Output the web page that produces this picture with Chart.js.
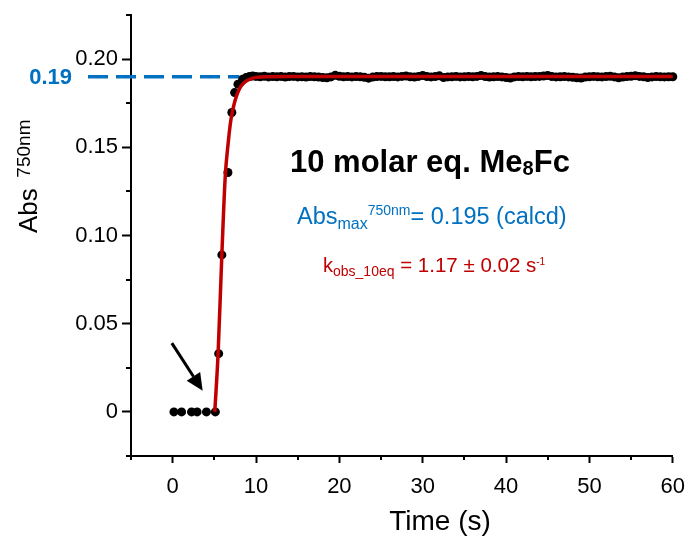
<!DOCTYPE html>
<html>
<head>
<meta charset="utf-8">
<script src="https://cdn.jsdelivr.net/npm/chart.js@4"></script>
<style>
  html, body { margin: 0; padding: 0; background: #fff; }
  canvas { display: block; }
</style>
</head>
<body>
<canvas id="kineticsChart" width="696" height="536"></canvas>
<script>
// measured points (time in s, absorbance at 750 nm)
const timeS = [
  0.15, 1.07, 2.26, 2.93, 4.05, 5.12, 5.52, 5.9, 6.63, 7.1, 7.43, 7.83,
  8.4, 8.8, 9.2, 9.6, 10.0, 10.5, 11.0, 11.5, 12.0, 12.5, 13.0, 13.5,
  14.0, 14.5, 15.0, 15.5, 16.0, 16.5, 17.0, 17.5, 18.0, 18.5, 19.0, 19.5,
  20.0, 20.5, 21.0, 21.5, 22.0, 22.5, 23.0, 23.5, 24.0, 24.5, 25.0, 25.5,
  26.0, 26.5, 27.0, 27.5, 28.0, 28.5, 29.0, 29.5, 30.0, 30.5, 31.0, 31.5,
  32.0, 32.5, 33.0, 33.5, 34.0, 34.5, 35.0, 35.5, 36.0, 36.5, 37.0, 37.5,
  38.0, 38.5, 39.0, 39.5, 40.0, 40.5, 41.0, 41.5, 42.0, 42.5, 43.0, 43.5,
  44.0, 44.5, 45.0, 45.5, 46.0, 46.5, 47.0, 47.5, 48.0, 48.5, 49.0, 49.5,
  50.0, 50.5, 51.0, 51.5, 52.0, 52.5, 53.0, 53.5, 54.0, 54.5, 55.0, 55.5,
  56.0, 56.5, 57.0, 57.5, 58.0, 58.5, 59.0, 59.5, 60.0
];
const absObs = [
  0, 0, 0, 0, 0, 0, 0.033, 0.089, 0.1357, 0.1697, 0.181, 0.1858,
  0.1886, 0.1895, 0.1901, 0.1904, 0.1902, 0.1900, 0.1903, 0.1899, 0.1901, 0.1900, 0.1902, 0.1898,
  0.1901, 0.1902, 0.1899, 0.1900, 0.1898, 0.1901, 0.1900, 0.1898, 0.1896, 0.1894, 0.1899, 0.1908,
  0.1903, 0.1900, 0.1901, 0.1899, 0.1901, 0.1900, 0.1897, 0.1892, 0.1898, 0.1901, 0.1902, 0.1900,
  0.1900, 0.1901, 0.1899, 0.1902, 0.1904, 0.1900, 0.1898, 0.1902, 0.1907, 0.1901, 0.1899, 0.1901,
  0.1905, 0.1895, 0.1899, 0.1900, 0.1902, 0.1899, 0.1900, 0.1901, 0.1900, 0.1902, 0.1907, 0.1901,
  0.1898, 0.1900, 0.1901, 0.1899, 0.1896, 0.1893, 0.1899, 0.1901, 0.1900, 0.1902, 0.1900, 0.1901,
  0.1902, 0.1904, 0.1907, 0.1901, 0.1899, 0.1900, 0.1901, 0.1899, 0.1897, 0.1894, 0.1893, 0.1898,
  0.1900, 0.1902, 0.1900, 0.1899, 0.1901, 0.1903, 0.1899, 0.1894, 0.1898, 0.1901, 0.1903, 0.1906,
  0.1902, 0.1900, 0.1896, 0.1899, 0.1901, 0.1900, 0.1899, 0.1900, 0.1900
];

// first-order fit
const fitTime = [5.05, 5.45, 5.9, 6.3, 6.65, 7.0, 7.45, 8.0, 8.6, 9.6, 11.0, 14.0, 60.0];
const fitAbs = [0, 0.033, 0.089, 0.133, 0.152, 0.166, 0.176, 0.183, 0.1867, 0.1892, 0.1900, 0.1901, 0.1901];

const plateauAbs = 0.19;
const plateauEnd = 8.0;
const arrowFrom = [-0.1, 0.039];
const arrowTo = [3.6, 0.012];

const FONT = "'Liberation Sans', Arial, sans-serif";
const BLUE = '#0070C0';
const RED = '#C00000';

function isMajor(v, step) {
  const r = v / step;
  return Math.abs(r - Math.round(r)) < 1e-6;
}

function drawRich(ctx, x, y, parts, color) {
  ctx.fillStyle = color;
  ctx.textAlign = 'left';
  ctx.textBaseline = 'alphabetic';
  parts.forEach(p => {
    ctx.font = (p.bold ? 'bold ' : '') + p.size + 'px ' + FONT;
    ctx.fillText(p.t, x, y + (p.dy || 0));
    x += ctx.measureText(p.t).width;
  });
}

const extras = {
  id: 'extras',
  beforeDatasetsDraw(chart) {
    const { ctx, chartArea: a, scales: { x, y } } = chart;
    const py = y.getPixelForValue(plateauAbs);
    ctx.save();
    ctx.strokeStyle = BLUE;
    ctx.lineWidth = 3.5;
    ctx.setLineDash([20, 8]);
    ctx.beginPath();
    ctx.moveTo(a.left - 43, py);
    ctx.lineTo(x.getPixelForValue(plateauEnd), py);
    ctx.stroke();
    ctx.restore();
  },
  afterDraw(chart) {
    const { ctx, chartArea: a, scales: { x, y } } = chart;
    ctx.save();

    // minor ticks
    ctx.strokeStyle = '#000';
    ctx.lineWidth = 2;
    ctx.beginPath();
    x.ticks.forEach(t => {
      if (!isMajor(t.value, 10)) {
        const px = Math.round(x.getPixelForValue(t.value));
        ctx.moveTo(px, a.bottom);
        ctx.lineTo(px, a.bottom + 4);
      }
    });
    y.ticks.forEach(t => {
      if (!isMajor(t.value, 0.05)) {
        const py = Math.round(y.getPixelForValue(t.value));
        ctx.moveTo(a.left, py);
        ctx.lineTo(a.left - 5, py);
      }
    });
    ctx.stroke();

    // 0.19 label
    ctx.fillStyle = BLUE;
    ctx.font = 'bold 22px ' + FONT;
    ctx.textAlign = 'right';
    ctx.textBaseline = 'middle';
    ctx.fillText('0.19', a.left - 59, y.getPixelForValue(plateauAbs) + 1);

    // arrow
    const x0 = x.getPixelForValue(arrowFrom[0]), y0 = y.getPixelForValue(arrowFrom[1]);
    const x1 = x.getPixelForValue(arrowTo[0]), y1 = y.getPixelForValue(arrowTo[1]);
    const ang = Math.atan2(y1 - y0, x1 - x0);
    const hl = 17, hw = 8;
    const bx = x1 - hl * Math.cos(ang), by = y1 - hl * Math.sin(ang);
    ctx.strokeStyle = '#000';
    ctx.fillStyle = '#000';
    ctx.lineWidth = 3;
    ctx.beginPath();
    ctx.moveTo(x0, y0);
    ctx.lineTo(bx, by);
    ctx.stroke();
    ctx.beginPath();
    ctx.moveTo(x1, y1);
    ctx.lineTo(bx + hw * Math.sin(ang), by - hw * Math.cos(ang));
    ctx.lineTo(bx - hw * Math.sin(ang), by + hw * Math.cos(ang));
    ctx.closePath();
    ctx.fill();

    // axis titles
    ctx.fillStyle = '#000';
    ctx.textAlign = 'center';
    ctx.textBaseline = 'alphabetic';
    ctx.font = '28px ' + FONT;
    ctx.fillText('Time (s)', 440, 530);

    ctx.save();
    ctx.translate(37, 233);
    ctx.rotate(-Math.PI / 2);
    drawRich(ctx, 0, 0, [
      { t: 'Abs', size: 26 },
      { t: '  ', size: 19 },
      { t: '750nm', size: 19, dy: -7 }
    ], '#000');
    ctx.restore();

    // annotations
    drawRich(ctx, 290, 172, [
      { t: '10 molar eq. Me', size: 31, bold: true },
      { t: '8', size: 20, bold: true, dy: 3 },
      { t: 'Fc', size: 31, bold: true }
    ], '#000');

    drawRich(ctx, 297, 224, [
      { t: 'Abs', size: 23.5 },
      { t: 'max', size: 16, dy: 5 },
      { t: '750nm', size: 14, dy: -9 },
      { t: '= 0.195 (calcd)', size: 23.5 }
    ], BLUE);

    drawRich(ctx, 323, 272, [
      { t: 'k', size: 20 },
      { t: 'obs_10eq', size: 14, dy: 4 },
      { t: ' = 1.17 ± 0.02 s', size: 20.5 },
      { t: '-1', size: 10, dy: -7 }
    ], RED);

    ctx.restore();
  }
};

const ctx = document.getElementById('kineticsChart').getContext('2d');
const kineticsChart = new Chart(ctx, {
  type: 'scatter',
  data: {
    datasets: [{
      type: 'line',
      label: 'Fit',
      data: fitTime.map((t, i) => ({ x: t, y: fitAbs[i] })),
      borderColor: RED,
      borderWidth: 3.5,
      pointRadius: 0,
      fill: false,
      cubicInterpolationMode: 'monotone',
      clip: false,
      order: 0
    }, {
      label: 'Abs 750nm',
      data: timeS.map((t, i) => ({ x: t, y: absObs[i] })),
      backgroundColor: '#000',
      borderWidth: 0,
      pointRadius: 4.5,
      clip: false,
      order: 1
    }]
  },
  options: {
    responsive: false,
    animation: false,
    layout: { padding: { top: 15, right: 20, left: 0, bottom: 0 } },
    plugins: { legend: { display: false }, tooltip: { enabled: false } },
    scales: {
      x: {
        type: 'linear',
        min: -5,
        max: 60,
        afterFit(scale) { scale.height = 80; },
        border: { display: true, color: '#000', width: 2 },
        grid: {
          drawOnChartArea: false,
          tickLength: 7,
          tickWidth: 2,
          tickColor: c => (c.tick && isMajor(c.tick.value, 10)) ? '#000' : 'rgba(0,0,0,0)'
        },
        ticks: {
          stepSize: 5,
          autoSkip: false,
          maxRotation: 0,
          padding: 11,
          color: '#000',
          font: { family: FONT, size: 22 },
          callback: v => (isMajor(v, 10) && v >= 0) ? String(v) : ''
        }
      },
      y: {
        type: 'linear',
        min: -0.025,
        max: 0.225,
        afterFit(scale) { scale.width = 131; },
        border: { display: true, color: '#000', width: 2 },
        grid: {
          drawOnChartArea: false,
          tickLength: 9,
          tickWidth: 2,
          tickColor: c => (c.tick && isMajor(c.tick.value, 0.05)) ? '#000' : 'rgba(0,0,0,0)'
        },
        ticks: {
          stepSize: 0.025,
          autoSkip: false,
          padding: 4,
          color: '#000',
          font: { family: FONT, size: 22, lineHeight: 1 },
          callback: v => {
            if (Math.abs(v) < 1e-9) return '0';
            return (isMajor(v, 0.05) && v > 0) ? v.toFixed(2) : '';
          }
        }
      }
    }
  },
  plugins: [extras]
});
</script>
</body>
</html>
